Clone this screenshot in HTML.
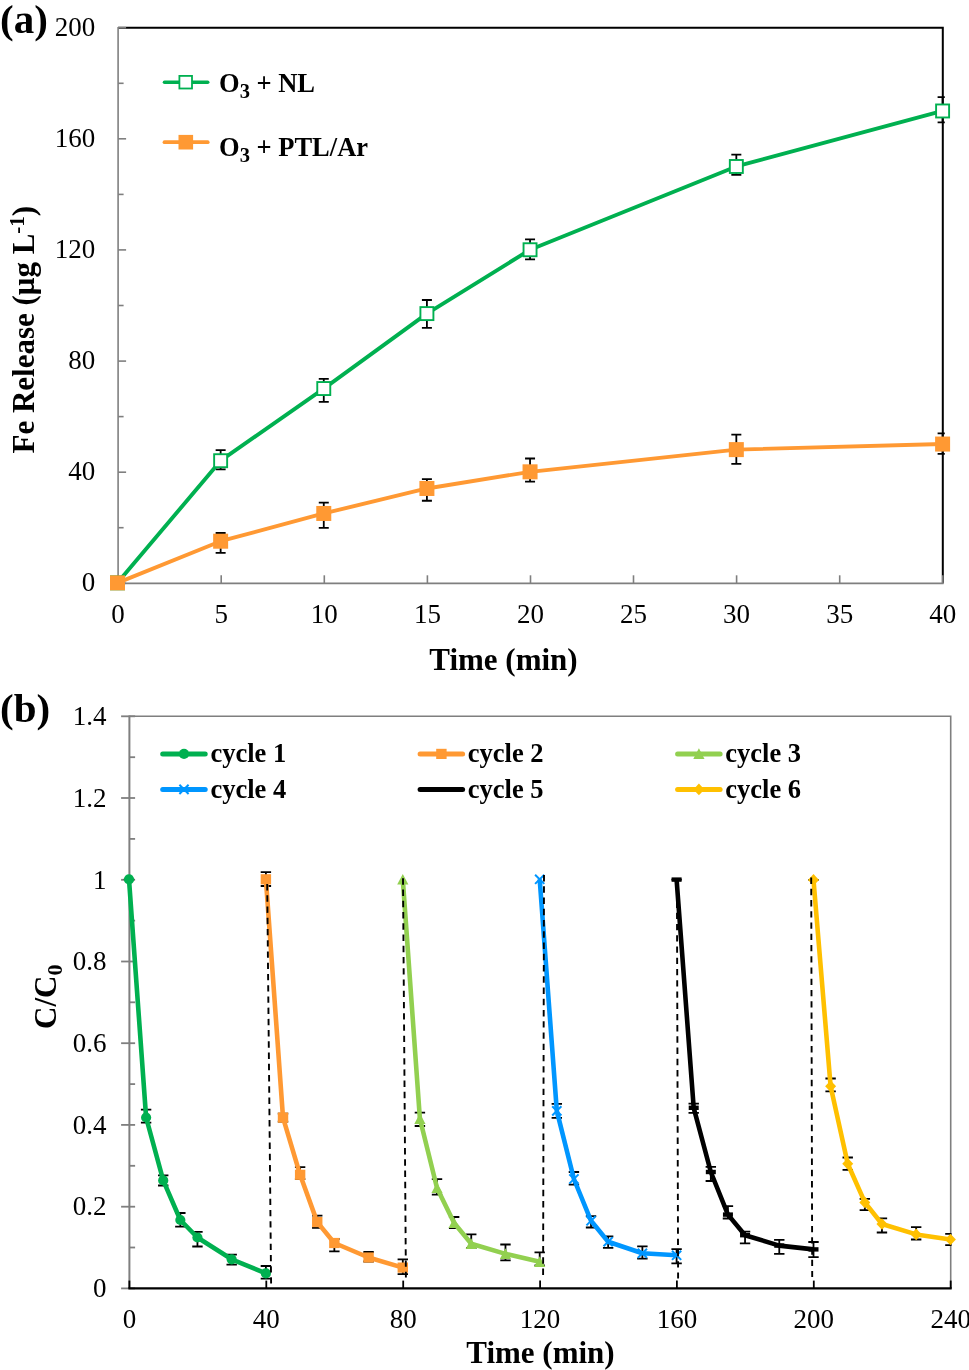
<!DOCTYPE html>
<html><head><meta charset="utf-8"><style>
html,body{margin:0;padding:0;background:#fff;}
svg{display:block;will-change:transform;}
text{font-family:"Liberation Serif",serif;fill:#000;}
.tk{font-size:27px;}
.lg{font-size:26.5px;font-weight:bold;}
.tt{font-size:31px;font-weight:bold;}
.pl{font-size:41px;font-weight:bold;}
.sub{font-size:20.5px;}
.sub2{font-size:22px;}
.sup{font-size:21px;}
</style></head><body>
<svg width="969" height="1370" viewBox="0 0 969 1370">
<rect width="969" height="1370" fill="#fff"/>
<path d="M118.1 27.7 H942.8 V583.3" fill="none" stroke="#000" stroke-width="2"/>
<line x1="118.1" y1="27.0" x2="118.1" y2="584.0" stroke="#7F7F7F" stroke-width="1.6"/>
<line x1="118.1" y1="583.3" x2="126.1" y2="583.3" stroke="#7F7F7F" stroke-width="1.6"/>
<line x1="118.1" y1="472.2" x2="126.1" y2="472.2" stroke="#7F7F7F" stroke-width="1.6"/>
<line x1="118.1" y1="361.1" x2="126.1" y2="361.1" stroke="#7F7F7F" stroke-width="1.6"/>
<line x1="118.1" y1="249.9" x2="126.1" y2="249.9" stroke="#7F7F7F" stroke-width="1.6"/>
<line x1="118.1" y1="138.8" x2="126.1" y2="138.8" stroke="#7F7F7F" stroke-width="1.6"/>
<line x1="118.1" y1="27.7" x2="126.1" y2="27.7" stroke="#7F7F7F" stroke-width="1.6"/>
<line x1="118.1" y1="527.7" x2="123.6" y2="527.7" stroke="#7F7F7F" stroke-width="1.6"/>
<line x1="118.1" y1="416.6" x2="123.6" y2="416.6" stroke="#7F7F7F" stroke-width="1.6"/>
<line x1="118.1" y1="305.5" x2="123.6" y2="305.5" stroke="#7F7F7F" stroke-width="1.6"/>
<line x1="118.1" y1="194.4" x2="123.6" y2="194.4" stroke="#7F7F7F" stroke-width="1.6"/>
<line x1="118.1" y1="83.3" x2="123.6" y2="83.3" stroke="#7F7F7F" stroke-width="1.6"/>
<line x1="117.3" y1="583.3" x2="943.6" y2="583.3" stroke="#7F7F7F" stroke-width="1.8"/>
<line x1="118.1" y1="583.3" x2="118.1" y2="575.3" stroke="#7F7F7F" stroke-width="1.6"/>
<line x1="221.2" y1="583.3" x2="221.2" y2="575.3" stroke="#7F7F7F" stroke-width="1.6"/>
<line x1="324.3" y1="583.3" x2="324.3" y2="575.3" stroke="#7F7F7F" stroke-width="1.6"/>
<line x1="427.4" y1="583.3" x2="427.4" y2="575.3" stroke="#7F7F7F" stroke-width="1.6"/>
<line x1="530.5" y1="583.3" x2="530.5" y2="575.3" stroke="#7F7F7F" stroke-width="1.6"/>
<line x1="633.5" y1="583.3" x2="633.5" y2="575.3" stroke="#7F7F7F" stroke-width="1.6"/>
<line x1="736.6" y1="583.3" x2="736.6" y2="575.3" stroke="#7F7F7F" stroke-width="1.6"/>
<line x1="839.7" y1="583.3" x2="839.7" y2="575.3" stroke="#7F7F7F" stroke-width="1.6"/>
<line x1="942.8" y1="583.3" x2="942.8" y2="575.3" stroke="#7F7F7F" stroke-width="1.6"/>
<text x="95.3" y="591.2" text-anchor="end" class="tk">0</text>
<text x="95.3" y="480.1" text-anchor="end" class="tk">40</text>
<text x="95.3" y="369.0" text-anchor="end" class="tk">80</text>
<text x="95.3" y="257.8" text-anchor="end" class="tk">120</text>
<text x="95.3" y="146.7" text-anchor="end" class="tk">160</text>
<text x="95.3" y="35.6" text-anchor="end" class="tk">200</text>
<text x="118.1" y="623" text-anchor="middle" class="tk">0</text>
<text x="221.2" y="623" text-anchor="middle" class="tk">5</text>
<text x="324.3" y="623" text-anchor="middle" class="tk">10</text>
<text x="427.4" y="623" text-anchor="middle" class="tk">15</text>
<text x="530.5" y="623" text-anchor="middle" class="tk">20</text>
<text x="633.5" y="623" text-anchor="middle" class="tk">25</text>
<text x="736.6" y="623" text-anchor="middle" class="tk">30</text>
<text x="839.7" y="623" text-anchor="middle" class="tk">35</text>
<text x="942.8" y="623" text-anchor="middle" class="tk">40</text>
<path d="M220.64 450.10 V469.40 M215.64 450.10 H225.64 M215.64 469.40 H225.64" stroke="#000" stroke-width="1.8" fill="none"/>
<path d="M323.77 378.90 V401.90 M318.77 378.90 H328.77 M318.77 401.90 H328.77" stroke="#000" stroke-width="1.8" fill="none"/>
<path d="M426.91 300.00 V327.80 M421.91 300.00 H431.91 M421.91 327.80 H431.91" stroke="#000" stroke-width="1.8" fill="none"/>
<path d="M530.05 239.40 V259.30 M525.05 239.40 H535.05 M525.05 259.30 H535.05" stroke="#000" stroke-width="1.8" fill="none"/>
<path d="M736.33 154.70 V174.90 M731.33 154.70 H741.33 M731.33 174.90 H741.33" stroke="#000" stroke-width="1.8" fill="none"/>
<path d="M942.60 97.10 V122.30 M937.60 97.10 H944.80 M937.60 122.30 H944.80" stroke="#000" stroke-width="1.8" fill="none"/>
<path d="M220.64 533.00 V552.80 M215.64 533.00 H225.64 M215.64 552.80 H225.64" stroke="#000" stroke-width="1.8" fill="none"/>
<path d="M323.77 502.60 V527.80 M318.77 502.60 H328.77 M318.77 527.80 H328.77" stroke="#000" stroke-width="1.8" fill="none"/>
<path d="M426.91 479.10 V500.75 M421.91 479.10 H431.91 M421.91 500.75 H431.91" stroke="#000" stroke-width="1.8" fill="none"/>
<path d="M530.05 458.50 V481.70 M525.05 458.50 H535.05 M525.05 481.70 H535.05" stroke="#000" stroke-width="1.8" fill="none"/>
<path d="M736.33 434.60 V463.90 M731.33 434.60 H741.33 M731.33 463.90 H741.33" stroke="#000" stroke-width="1.8" fill="none"/>
<path d="M942.60 433.30 V453.80 M937.60 433.30 H944.80 M937.60 453.80 H944.80" stroke="#000" stroke-width="1.8" fill="none"/>
<polyline points="117.50,582.85 220.64,460.72 323.77,388.55 426.91,313.60 530.05,249.76 736.33,166.49 942.60,110.97" fill="none" stroke="#00B050" stroke-width="3.9" stroke-linejoin="round"/>
<polyline points="117.50,582.85 220.64,541.21 323.77,513.46 426.91,488.47 530.05,471.82 736.33,449.61 942.60,444.06" fill="none" stroke="#FF9933" stroke-width="3.9" stroke-linejoin="round"/>
<rect x="111.00" y="576.35" width="13" height="13" fill="#fff" stroke="#00B050" stroke-width="1.9"/>
<rect x="214.14" y="454.22" width="13" height="13" fill="#fff" stroke="#00B050" stroke-width="1.9"/>
<rect x="317.27" y="382.05" width="13" height="13" fill="#fff" stroke="#00B050" stroke-width="1.9"/>
<rect x="420.41" y="307.10" width="13" height="13" fill="#fff" stroke="#00B050" stroke-width="1.9"/>
<rect x="523.55" y="243.26" width="13" height="13" fill="#fff" stroke="#00B050" stroke-width="1.9"/>
<rect x="729.83" y="159.99" width="13" height="13" fill="#fff" stroke="#00B050" stroke-width="1.9"/>
<rect x="936.10" y="104.47" width="13" height="13" fill="#fff" stroke="#00B050" stroke-width="1.9"/>
<rect x="110.00" y="575.35" width="15" height="15" fill="#FF9933"/>
<rect x="213.14" y="533.71" width="15" height="15" fill="#FF9933"/>
<rect x="316.27" y="505.96" width="15" height="15" fill="#FF9933"/>
<rect x="419.41" y="480.97" width="15" height="15" fill="#FF9933"/>
<rect x="522.55" y="464.32" width="15" height="15" fill="#FF9933"/>
<rect x="728.83" y="442.11" width="15" height="15" fill="#FF9933"/>
<rect x="935.10" y="436.56" width="15" height="15" fill="#FF9933"/>
<line x1="164.5" y1="82.2" x2="207.7" y2="82.2" stroke="#00B050" stroke-width="3.6" stroke-linecap="round"/>
<rect x="179.4" y="75.9" width="12.6" height="12.6" fill="#fff" stroke="#00B050" stroke-width="1.8"/>
<text x="219" y="91.8" class="lg">O<tspan class="sub" dy="6.4">3</tspan><tspan dy="-6.4"> + NL</tspan></text>
<line x1="164.5" y1="142.2" x2="207.7" y2="142.2" stroke="#FF9933" stroke-width="3.8" stroke-linecap="round"/>
<rect x="178.5" y="134.9" width="14.6" height="14.6" fill="#FF9933"/>
<text x="219" y="155.9" class="lg">O<tspan class="sub" dy="6.4">3</tspan><tspan dy="-6.4"> + PTL/Ar</tspan></text>
<text x="0" y="33" class="pl">(a)</text>
<text x="429.3" y="669.8" class="tt">Time (min)</text>
<text transform="translate(33.6 453.5) rotate(-90)" class="tt">Fe Release (μg L<tspan class="sup" dy="-9.3">-1</tspan><tspan dy="9.3">)</tspan></text>
<path d="M129.4 716.3 H950.7 V1288.4" fill="none" stroke="#7F7F7F" stroke-width="1.6"/>
<line x1="129.4" y1="715.5" x2="129.4" y2="1288.4" stroke="#7F7F7F" stroke-width="2"/>
<line x1="121.1" y1="1288.4" x2="135.1" y2="1288.4" stroke="#7F7F7F" stroke-width="1.8"/>
<line x1="121.1" y1="1206.7" x2="135.1" y2="1206.7" stroke="#7F7F7F" stroke-width="1.8"/>
<line x1="121.1" y1="1124.9" x2="135.1" y2="1124.9" stroke="#7F7F7F" stroke-width="1.8"/>
<line x1="121.1" y1="1043.2" x2="135.1" y2="1043.2" stroke="#7F7F7F" stroke-width="1.8"/>
<line x1="121.1" y1="961.5" x2="135.1" y2="961.5" stroke="#7F7F7F" stroke-width="1.8"/>
<line x1="121.1" y1="879.8" x2="135.1" y2="879.8" stroke="#7F7F7F" stroke-width="1.8"/>
<line x1="121.1" y1="798.0" x2="135.1" y2="798.0" stroke="#7F7F7F" stroke-width="1.8"/>
<line x1="121.1" y1="716.3" x2="135.1" y2="716.3" stroke="#7F7F7F" stroke-width="1.8"/>
<line x1="129.4" y1="1247.5" x2="135.1" y2="1247.5" stroke="#7F7F7F" stroke-width="1.8"/>
<line x1="129.4" y1="1165.8" x2="135.1" y2="1165.8" stroke="#7F7F7F" stroke-width="1.8"/>
<line x1="129.4" y1="1084.1" x2="135.1" y2="1084.1" stroke="#7F7F7F" stroke-width="1.8"/>
<line x1="129.4" y1="1002.3" x2="135.1" y2="1002.3" stroke="#7F7F7F" stroke-width="1.8"/>
<line x1="129.4" y1="920.6" x2="135.1" y2="920.6" stroke="#7F7F7F" stroke-width="1.8"/>
<line x1="129.4" y1="838.9" x2="135.1" y2="838.9" stroke="#7F7F7F" stroke-width="1.8"/>
<line x1="129.4" y1="757.2" x2="135.1" y2="757.2" stroke="#7F7F7F" stroke-width="1.8"/>
<line x1="128.4" y1="1288.4" x2="951.7" y2="1288.4" stroke="#000" stroke-width="2.2"/>
<line x1="129.4" y1="1288.4" x2="129.4" y2="1280.6" stroke="#000" stroke-width="1.8"/>
<line x1="266.3" y1="1288.4" x2="266.3" y2="1280.6" stroke="#000" stroke-width="1.8"/>
<line x1="403.2" y1="1288.4" x2="403.2" y2="1280.6" stroke="#000" stroke-width="1.8"/>
<line x1="540.1" y1="1288.4" x2="540.1" y2="1280.6" stroke="#000" stroke-width="1.8"/>
<line x1="676.9" y1="1288.4" x2="676.9" y2="1280.6" stroke="#000" stroke-width="1.8"/>
<line x1="813.8" y1="1288.4" x2="813.8" y2="1280.6" stroke="#000" stroke-width="1.8"/>
<line x1="950.7" y1="1288.4" x2="950.7" y2="1280.6" stroke="#000" stroke-width="1.8"/>
<text x="106.4" y="1297.1" text-anchor="end" class="tk">0</text>
<text x="106.4" y="1215.4" text-anchor="end" class="tk">0.2</text>
<text x="106.4" y="1133.6" text-anchor="end" class="tk">0.4</text>
<text x="106.4" y="1051.9" text-anchor="end" class="tk">0.6</text>
<text x="106.4" y="970.2" text-anchor="end" class="tk">0.8</text>
<text x="106.4" y="888.5" text-anchor="end" class="tk">1</text>
<text x="106.4" y="806.7" text-anchor="end" class="tk">1.2</text>
<text x="106.4" y="725.0" text-anchor="end" class="tk">1.4</text>
<text x="129.4" y="1328.3" text-anchor="middle" class="tk">0</text>
<text x="266.3" y="1328.3" text-anchor="middle" class="tk">40</text>
<text x="403.2" y="1328.3" text-anchor="middle" class="tk">80</text>
<text x="540.1" y="1328.3" text-anchor="middle" class="tk">120</text>
<text x="676.9" y="1328.3" text-anchor="middle" class="tk">160</text>
<text x="813.8" y="1328.3" text-anchor="middle" class="tk">200</text>
<text x="950.7" y="1328.3" text-anchor="middle" class="tk">240</text>
<path d="M129.00 879.40 V879.40 M123.80 879.40 H134.20 M123.80 879.40 H134.20" stroke="#000" stroke-width="1.8" fill="none"/>
<path d="M146.11 1109.60 V1122.60 M140.91 1109.60 H151.31 M140.91 1122.60 H151.31" stroke="#000" stroke-width="1.8" fill="none"/>
<path d="M163.22 1175.40 V1185.50 M158.03 1175.40 H168.42 M158.03 1185.50 H168.42" stroke="#000" stroke-width="1.8" fill="none"/>
<path d="M180.34 1213.00 V1226.70 M175.14 1213.00 H185.54 M175.14 1226.70 H185.54" stroke="#000" stroke-width="1.8" fill="none"/>
<path d="M197.45 1231.80 V1246.50 M192.25 1231.80 H202.65 M192.25 1246.50 H202.65" stroke="#000" stroke-width="1.8" fill="none"/>
<path d="M231.68 1254.60 V1264.60 M226.48 1254.60 H236.88 M226.48 1264.60 H236.88" stroke="#000" stroke-width="1.8" fill="none"/>
<path d="M265.90 1266.00 V1278.70 M260.70 1266.00 H271.10 M260.70 1278.70 H271.10" stroke="#000" stroke-width="1.8" fill="none"/>
<polyline points="129.00,879.40 146.11,1117.50 163.22,1180.40 180.34,1220.00 197.45,1237.50 231.68,1259.30 265.90,1273.40" fill="none" stroke="#00B050" stroke-width="4.6" stroke-linejoin="round"/>
<circle cx="129.00" cy="879.40" r="5.1" fill="#00B050"/>
<circle cx="146.11" cy="1117.50" r="5.1" fill="#00B050"/>
<circle cx="163.22" cy="1180.40" r="5.1" fill="#00B050"/>
<circle cx="180.34" cy="1220.00" r="5.1" fill="#00B050"/>
<circle cx="197.45" cy="1237.50" r="5.1" fill="#00B050"/>
<circle cx="231.68" cy="1259.30" r="5.1" fill="#00B050"/>
<circle cx="265.90" cy="1273.40" r="5.1" fill="#00B050"/>
<path d="M265.90 872.10 V886.00 M260.70 872.10 H271.10 M260.70 886.00 H271.10" stroke="#000" stroke-width="1.8" fill="none"/>
<path d="M283.01 1113.60 V1121.60 M277.81 1113.60 H288.21 M277.81 1121.60 H288.21" stroke="#000" stroke-width="1.8" fill="none"/>
<path d="M300.12 1167.20 V1179.20 M294.93 1167.20 H305.32 M294.93 1179.20 H305.32" stroke="#000" stroke-width="1.8" fill="none"/>
<path d="M317.24 1215.60 V1227.90 M312.04 1215.60 H322.44 M312.04 1227.90 H322.44" stroke="#000" stroke-width="1.8" fill="none"/>
<path d="M334.35 1239.00 V1251.40 M329.15 1239.00 H339.55 M329.15 1251.40 H339.55" stroke="#000" stroke-width="1.8" fill="none"/>
<path d="M368.57 1252.00 V1261.50 M363.38 1252.00 H373.77 M363.38 1261.50 H373.77" stroke="#000" stroke-width="1.8" fill="none"/>
<path d="M402.80 1259.40 V1274.10 M397.60 1259.40 H408.00 M397.60 1274.10 H408.00" stroke="#000" stroke-width="1.8" fill="none"/>
<polyline points="265.90,879.30 283.01,1117.60 300.12,1174.80 317.24,1222.10 334.35,1243.00 368.57,1257.50 402.80,1267.60" fill="none" stroke="#FF9933" stroke-width="4.6" stroke-linejoin="round"/>
<rect x="260.70" y="874.20" width="10.4" height="10.2" fill="#FF9933"/>
<rect x="277.81" y="1112.50" width="10.4" height="10.2" fill="#FF9933"/>
<rect x="294.93" y="1169.70" width="10.4" height="10.2" fill="#FF9933"/>
<rect x="312.04" y="1217.00" width="10.4" height="10.2" fill="#FF9933"/>
<rect x="329.15" y="1237.90" width="10.4" height="10.2" fill="#FF9933"/>
<rect x="363.38" y="1252.40" width="10.4" height="10.2" fill="#FF9933"/>
<rect x="397.60" y="1262.50" width="10.4" height="10.2" fill="#FF9933"/>
<path d="M419.91 1112.70 V1126.00 M414.71 1112.70 H425.11 M414.71 1126.00 H425.11" stroke="#000" stroke-width="1.8" fill="none"/>
<path d="M437.02 1179.20 V1194.60 M431.82 1179.20 H442.22 M431.82 1194.60 H442.22" stroke="#000" stroke-width="1.8" fill="none"/>
<path d="M454.14 1217.00 V1228.00 M448.94 1217.00 H459.34 M448.94 1228.00 H459.34" stroke="#000" stroke-width="1.8" fill="none"/>
<path d="M471.25 1234.40 V1248.10 M466.05 1234.40 H476.45 M466.05 1248.10 H476.45" stroke="#000" stroke-width="1.8" fill="none"/>
<path d="M505.47 1244.50 V1260.40 M500.27 1244.50 H510.67 M500.27 1260.40 H510.67" stroke="#000" stroke-width="1.8" fill="none"/>
<path d="M539.70 1252.40 V1265.40 M534.50 1252.40 H544.90 M534.50 1265.40 H544.90" stroke="#000" stroke-width="1.8" fill="none"/>
<polyline points="402.80,879.50 419.91,1118.80 437.02,1188.00 454.14,1223.00 471.25,1243.80 505.47,1253.90 539.70,1261.80" fill="none" stroke="#92D050" stroke-width="4.6" stroke-linejoin="round"/>
<path d="M402.80 873.90 L408.40 884.60 L397.20 884.60Z" fill="#92D050"/>
<path d="M419.91 1113.20 L425.51 1123.90 L414.31 1123.90Z" fill="#92D050"/>
<path d="M437.02 1182.40 L442.62 1193.10 L431.42 1193.10Z" fill="#92D050"/>
<path d="M454.14 1217.40 L459.74 1228.10 L448.54 1228.10Z" fill="#92D050"/>
<path d="M471.25 1238.20 L476.85 1248.90 L465.65 1248.90Z" fill="#92D050"/>
<path d="M505.47 1248.30 L511.07 1259.00 L499.87 1259.00Z" fill="#92D050"/>
<path d="M539.70 1256.20 L545.30 1266.90 L534.10 1266.90Z" fill="#92D050"/>
<path d="M556.81 1103.90 V1117.90 M551.61 1103.90 H562.01 M551.61 1117.90 H562.01" stroke="#000" stroke-width="1.8" fill="none"/>
<path d="M573.92 1172.00 V1184.70 M568.72 1172.00 H579.12 M568.72 1184.70 H579.12" stroke="#000" stroke-width="1.8" fill="none"/>
<path d="M591.04 1216.20 V1227.50 M585.84 1216.20 H596.24 M585.84 1227.50 H596.24" stroke="#000" stroke-width="1.8" fill="none"/>
<path d="M608.15 1236.30 V1247.90 M602.95 1236.30 H613.35 M602.95 1247.90 H613.35" stroke="#000" stroke-width="1.8" fill="none"/>
<path d="M642.38 1246.30 V1258.70 M637.17 1246.30 H647.58 M637.17 1258.70 H647.58" stroke="#000" stroke-width="1.8" fill="none"/>
<path d="M676.60 1249.10 V1263.40 M671.40 1249.10 H681.80 M671.40 1263.40 H681.80" stroke="#000" stroke-width="1.8" fill="none"/>
<polyline points="539.70,879.30 556.81,1110.90 573.92,1179.00 591.04,1220.80 608.15,1241.70 642.38,1253.30 676.60,1255.30" fill="none" stroke="#0096FF" stroke-width="4.6" stroke-linejoin="round"/>
<path d="M535.10 874.70 L544.30 883.90 M544.30 874.70 L535.10 883.90" stroke="#0096FF" stroke-width="2" fill="none"/>
<path d="M552.21 1106.30 L561.41 1115.50 M561.41 1106.30 L552.21 1115.50" stroke="#0096FF" stroke-width="2" fill="none"/>
<path d="M569.32 1174.40 L578.52 1183.60 M578.52 1174.40 L569.32 1183.60" stroke="#0096FF" stroke-width="2" fill="none"/>
<path d="M586.44 1216.20 L595.64 1225.40 M595.64 1216.20 L586.44 1225.40" stroke="#0096FF" stroke-width="2" fill="none"/>
<path d="M603.55 1237.10 L612.75 1246.30 M612.75 1237.10 L603.55 1246.30" stroke="#0096FF" stroke-width="2" fill="none"/>
<path d="M637.77 1248.70 L646.98 1257.90 M646.98 1248.70 L637.77 1257.90" stroke="#0096FF" stroke-width="2" fill="none"/>
<path d="M672.00 1250.70 L681.20 1259.90 M681.20 1250.70 L672.00 1259.90" stroke="#0096FF" stroke-width="2" fill="none"/>
<path d="M676.60 879.60 V879.60 M671.40 879.60 H681.80 M671.40 879.60 H681.80" stroke="#000" stroke-width="1.8" fill="none"/>
<path d="M693.71 1103.60 V1112.90 M688.51 1103.60 H698.91 M688.51 1112.90 H698.91" stroke="#000" stroke-width="1.8" fill="none"/>
<path d="M710.82 1166.90 V1181.00 M705.62 1166.90 H716.02 M705.62 1181.00 H716.02" stroke="#000" stroke-width="1.8" fill="none"/>
<path d="M727.94 1206.10 V1218.50 M722.74 1206.10 H733.14 M722.74 1218.50 H733.14" stroke="#000" stroke-width="1.8" fill="none"/>
<path d="M745.05 1231.60 V1243.30 M739.85 1231.60 H750.25 M739.85 1243.30 H750.25" stroke="#000" stroke-width="1.8" fill="none"/>
<path d="M779.27 1239.80 V1253.80 M774.07 1239.80 H784.48 M774.07 1253.80 H784.48" stroke="#000" stroke-width="1.8" fill="none"/>
<path d="M813.50 1242.00 V1257.20 M808.30 1242.00 H818.70 M808.30 1257.20 H818.70" stroke="#000" stroke-width="1.8" fill="none"/>
<polyline points="676.60,879.60 693.71,1107.80 710.82,1172.00 727.94,1214.60 745.05,1235.20 779.27,1245.60 813.50,1249.40" fill="none" stroke="#000" stroke-width="4.6" stroke-linejoin="round"/>
<rect x="671.60" y="877.40" width="10" height="4.4" fill="#000"/>
<rect x="688.71" y="1105.60" width="10" height="4.4" fill="#000"/>
<rect x="705.82" y="1169.80" width="10" height="4.4" fill="#000"/>
<rect x="722.94" y="1212.40" width="10" height="4.4" fill="#000"/>
<rect x="740.05" y="1233.00" width="10" height="4.4" fill="#000"/>
<rect x="774.27" y="1243.40" width="10" height="4.4" fill="#000"/>
<rect x="808.50" y="1247.20" width="10" height="4.4" fill="#000"/>
<path d="M813.50 879.90 V879.90 M808.30 879.90 H818.70 M808.30 879.90 H818.70" stroke="#000" stroke-width="1.8" fill="none"/>
<path d="M830.61 1078.50 V1091.40 M825.41 1078.50 H835.81 M825.41 1091.40 H835.81" stroke="#000" stroke-width="1.8" fill="none"/>
<path d="M847.73 1157.50 V1169.80 M842.52 1157.50 H852.93 M842.52 1169.80 H852.93" stroke="#000" stroke-width="1.8" fill="none"/>
<path d="M864.84 1198.80 V1210.10 M859.64 1198.80 H870.04 M859.64 1210.10 H870.04" stroke="#000" stroke-width="1.8" fill="none"/>
<path d="M881.95 1218.30 V1232.50 M876.75 1218.30 H887.15 M876.75 1232.50 H887.15" stroke="#000" stroke-width="1.8" fill="none"/>
<path d="M916.17 1227.10 V1239.50 M910.97 1227.10 H921.38 M910.97 1239.50 H921.38" stroke="#000" stroke-width="1.8" fill="none"/>
<path d="M950.40 1233.80 V1245.20 M945.20 1233.80 H951.50 M945.20 1245.20 H951.50" stroke="#000" stroke-width="1.8" fill="none"/>
<polyline points="813.50,879.90 830.61,1086.30 847.73,1163.70 864.84,1202.40 881.95,1224.00 916.17,1234.40 950.40,1239.50" fill="none" stroke="#FFC000" stroke-width="4.6" stroke-linejoin="round"/>
<path d="M813.50 874.10 L819.00 879.90 L813.50 885.70 L808.00 879.90Z" fill="#FFC000"/>
<path d="M830.61 1080.50 L836.11 1086.30 L830.61 1092.10 L825.11 1086.30Z" fill="#FFC000"/>
<path d="M847.73 1157.90 L853.23 1163.70 L847.73 1169.50 L842.23 1163.70Z" fill="#FFC000"/>
<path d="M864.84 1196.60 L870.34 1202.40 L864.84 1208.20 L859.34 1202.40Z" fill="#FFC000"/>
<path d="M881.95 1218.20 L887.45 1224.00 L881.95 1229.80 L876.45 1224.00Z" fill="#FFC000"/>
<path d="M916.17 1228.60 L921.67 1234.40 L916.17 1240.20 L910.67 1234.40Z" fill="#FFC000"/>
<path d="M950.40 1233.70 L955.90 1239.50 L950.40 1245.30 L944.90 1239.50Z" fill="#FFC000"/>
<line x1="267.2" y1="884.0" x2="271.1" y2="1283.5" stroke="#000" stroke-width="1.9" stroke-dasharray="6.4 4.84"/>
<line x1="403" y1="878.3" x2="405.9" y2="1277.5" stroke="#000" stroke-width="1.9" stroke-dasharray="6.4 4.84"/>
<line x1="544" y1="875.1" x2="543.1" y2="1275" stroke="#000" stroke-width="1.9" stroke-dasharray="6.4 4.84"/>
<line x1="676.9" y1="879.0" x2="678.1" y2="1278.5" stroke="#000" stroke-width="1.9" stroke-dasharray="6.4 4.84"/>
<line x1="811.2" y1="877.5" x2="812.2" y2="1277" stroke="#000" stroke-width="1.9" stroke-dasharray="6.4 4.84"/>
<line x1="162.7" y1="753.9" x2="205.2" y2="753.9" stroke="#00B050" stroke-width="5" stroke-linecap="round"/>
<circle cx="184.00" cy="753.90" r="5.1" fill="#00B050"/>
<text x="210.4" y="762.3" class="lg">cycle 1</text>
<line x1="420.1" y1="753.9" x2="462.6" y2="753.9" stroke="#FF9933" stroke-width="5" stroke-linecap="round"/>
<rect x="436.20" y="748.80" width="10.4" height="10.2" fill="#FF9933"/>
<text x="467.8" y="762.3" class="lg">cycle 2</text>
<line x1="677.6" y1="753.9" x2="720.1" y2="753.9" stroke="#92D050" stroke-width="5" stroke-linecap="round"/>
<path d="M698.90 748.30 L704.50 759.00 L693.30 759.00Z" fill="#92D050"/>
<text x="725.3" y="762.3" class="lg">cycle 3</text>
<line x1="162.7" y1="789.4" x2="205.2" y2="789.4" stroke="#0096FF" stroke-width="5" stroke-linecap="round"/>
<path d="M179.40 784.80 L188.60 794.00 M188.60 784.80 L179.40 794.00" stroke="#0096FF" stroke-width="2" fill="none"/>
<text x="210.4" y="798.1" class="lg">cycle 4</text>
<line x1="420.1" y1="789.4" x2="462.6" y2="789.4" stroke="#000" stroke-width="5" stroke-linecap="round"/>

<text x="467.8" y="798.1" class="lg">cycle 5</text>
<line x1="677.6" y1="789.4" x2="720.1" y2="789.4" stroke="#FFC000" stroke-width="5" stroke-linecap="round"/>
<path d="M698.90 783.60 L704.40 789.40 L698.90 795.20 L693.40 789.40Z" fill="#FFC000"/>
<text x="725.3" y="798.1" class="lg">cycle 6</text>
<text x="0" y="721.5" class="pl">(b)</text>
<text x="466.3" y="1363" class="tt">Time (min)</text>
<text transform="translate(55.9 1029) rotate(-90)" class="tt">C/C<tspan class="sub2" dy="6.5">0</tspan></text>
</svg>
</body></html>
